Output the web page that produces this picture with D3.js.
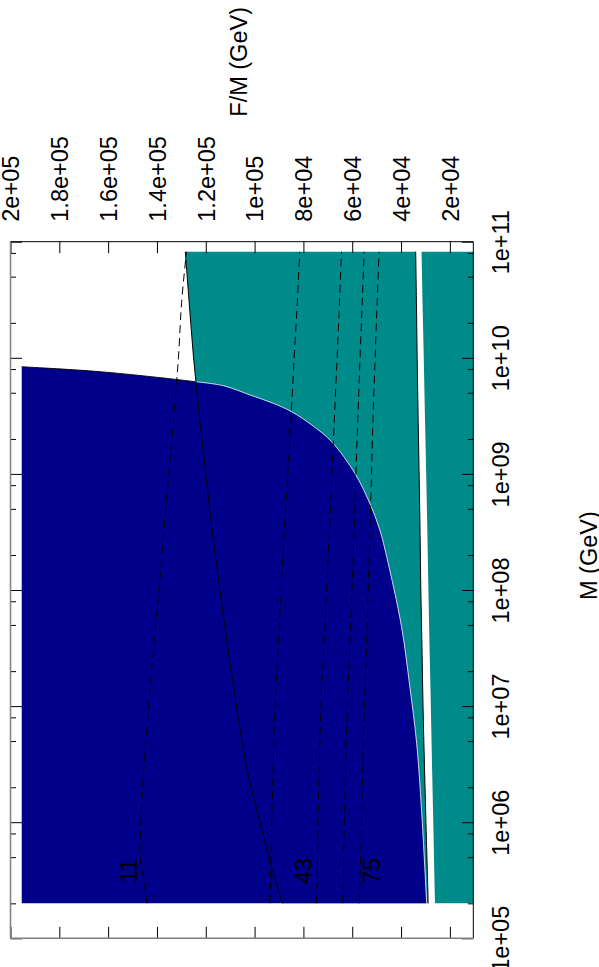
<!DOCTYPE html>
<html>
<head>
<meta charset="utf-8">
<script src="https://cdn.jsdelivr.net/npm/d3@7"></script>
<style>
  html, body { margin: 0; padding: 0; background: #fff; }
  svg text { font-family: "Liberation Sans", Arial, sans-serif; fill: #000; }
</style>
</head>
<body>
<div id="wrapper"></div>
<script>
// M grid (GeV) shared by the contour curves
const massGrid = [2e5, 3e5, 5e5, 1e6, 3e6, 1e7, 3e7, 1e8, 3e8, 1e9, 3e9, 1e10, 3e10, 8.2e10];

// solid curve bounding the teal band on the left
const solidLeft = [88600, 91100, 94200, 97800, 103300, 107400, 110800, 114200, 117200, 120000, 122500, 125000, 126800, 128400];
// solid curve bounding the teal band on the right
const solidRight = [28900, 29100, 29400, 29800, 30400, 31000, 31400, 31900, 32200, 32600, 33000, 33400, 33700, 34000];
// left edge of the second teal band
const bandEdge = [26100, 26300, 26500, 26800, 27300, 27800, 28300, 28800, 29200, 29700, 30200, 30700, 31200, 31600];

// dashed contours
const contour11 = [144100, 145200, 146800, 146600, 145300, 143400, 141500, 139200, 137300, 135100, 133200, 131200, 129900, 127900];
const contour27 = [93700, 93500, 93300, 93000, 92400, 91600, 90400, 89100, 87900, 86400, 85100, 83800, 82500, 81500];
const contour43 = [74600, 74400, 74200, 74000, 73500, 72800, 71700, 70500, 69400, 68300, 67300, 66200, 65200, 64400];
const contour59 = [63900, 63700, 63500, 63200, 62700, 62000, 61100, 60100, 59300, 58500, 57700, 56800, 55900, 55100];
const contour75 = [57100, 56900, 56600, 56200, 55700, 55000, 54200, 53500, 52800, 52100, 51500, 50600, 49800, 49000];

// excluded (blue) region boundary
const blueMass = [8.37e9, 7.59e9, 6.22e9, 5.75e9, 4.79e9, 4.06e9, 3.43e9, 2.64e9, 1.89e9, 1.01e9, 5.58e8, 3.29e8, 1.94e8, 4.83e7, 1.47e7, 4.79e6, 1.27e6, 2e5];
const blueF = [195400, 163300, 124200, 112800, 101900, 92400, 84800, 76600, 68400, 58900, 52800, 48700, 45900, 39800, 36400, 33600, 31600, 29500];

// contour labels
const labelText = ["11", "43", "75"];
const labelMass = [3.8e5, 3.8e5, 3.8e5];
const labelF = [151700, 79800, 51900];

// ticks
const fTicks = [2e4, 4e4, 6e4, 8e4, 1e5, 1.2e5, 1.4e5, 1.6e5, 1.8e5, 2e5];
const fTickLabels = ["2e+04", "4e+04", "6e+04", "8e+04", "1e+05", "1.2e+05", "1.4e+05", "1.6e+05", "1.8e+05", "2e+05"];
const mTicks = [1e5, 1e6, 1e7, 1e8, 1e9, 1e10, 1e11];
const mTickLabels = ["1e+05", "1e+06", "1e+07", "1e+08", "1e+09", "1e+10", "1e+11"];
const mMinor = [2e5, 5e5, 8e5, 2e6, 5e6, 8e6, 2e7, 5e7, 8e7, 2e8, 5e8, 8e8, 2e9, 5e9, 8e9, 2e10, 5e10, 8e10];

const width = 599, height = 967;
const frame = { left: 10.5, right: 473.3, top: 241.7, bottom: 938.3 };
const fontSize = 23.5;

const svg = d3.select("#wrapper").append("svg")
    .attr("width", width)
    .attr("height", height);

// plot is drawn turned a quarter: F/M runs left (high) to right (low), M runs bottom to top
const x = d3.scaleLinear().domain([2e5, 1.04e4]).range([frame.left, frame.right]);
const y = d3.scaleLog().domain([1e5, 1e11]).range([frame.bottom, frame.top]);

svg.append("clipPath").attr("id", "plotclip")
    .append("rect")
    .attr("x", frame.left).attr("y", frame.top)
    .attr("width", frame.right - frame.left)
    .attr("height", frame.bottom - frame.top);

const plot = svg.append("g").attr("clip-path", "url(#plotclip)");

const line = d3.line().x(d => x(d[1])).y(d => y(d[0]));
const smooth = d3.line().x(d => x(d[1])).y(d => y(d[0])).curve(d3.curveCatmullRom.alpha(0.5));
const pairs = vals => massGrid.map((m, i) => [m, vals[i]]);

// teal band between the two solid curves
const bandA = pairs(solidLeft).concat(pairs(solidRight).reverse());
plot.append("path")
    .attr("d", line(bandA) + "Z")
    .attr("fill", "#008b8b");

// second teal band, out to the low F/M edge
const bandB = pairs(bandEdge).concat(massGrid.map(m => [m, 5000]).reverse());
plot.append("path")
    .attr("d", line(bandB) + "Z")
    .attr("fill", "#008b8b");

// blue excluded region
const bluePts = blueMass.map((m, i) => [m, blueF[i]]);
const lastM = blueMass[blueMass.length - 1];
plot.append("path")
    .attr("d", smooth(bluePts) + `L${x(blueF[0])},${y(lastM)}Z`)
    .attr("fill", "#00008b");

plot.append("path")
    .attr("d", smooth(bluePts.slice(2)))
    .attr("fill", "none")
    .attr("stroke", "#e8e8f0")
    .attr("stroke-width", 0.9);

plot.append("path")
    .attr("d", smooth(bluePts.slice(0, 4)))
    .attr("fill", "none")
    .attr("stroke", "#000")
    .attr("stroke-width", 0.9)
    .attr("stroke-dasharray", `${x(blueF[2]) - x(blueF[0])},1000`);

// solid lines
[solidLeft, solidRight].forEach(vals => {
    plot.append("path")
        .attr("d", smooth(pairs(vals)))
        .attr("fill", "none")
        .attr("stroke", "#000")
        .attr("stroke-width", 1);
});

// dashed contours
[contour11, contour27, contour43, contour59, contour75].forEach(vals => {
    plot.append("path")
        .attr("d", smooth(pairs(vals)))
        .attr("fill", "none")
        .attr("stroke", "#000")
        .attr("stroke-width", 1)
        .attr("stroke-dasharray", "8,5");
});

// contour labels
labelText.forEach((t, i) => {
    svg.append("text")
        .attr("transform", `translate(${x(labelF[i]) + 8.4}, ${y(labelMass[i])}) rotate(-90)`)
        .attr("text-anchor", "middle")
        .style("font-size", fontSize + "px")
        .text(t);
});

// axes
const topAxis = svg.append("g")
    .attr("transform", `translate(0, ${frame.top})`)
    .call(d3.axisTop(x).tickValues(fTicks).tickSize(-11.5).tickFormat((d, i) => fTickLabels[i]));
topAxis.selectAll("text")
    .attr("x", null).attr("y", null).attr("dy", null)
    .attr("text-anchor", "start")
    .attr("transform", `translate(8.4, -20) rotate(-90)`)
    .style("font-size", fontSize + "px")
    .style("font-family", "'Liberation Sans', Arial, sans-serif");

svg.append("g")
    .attr("transform", `translate(0, ${frame.bottom})`)
    .call(d3.axisBottom(x).tickValues(fTicks).tickSize(-11.5).tickFormat(""));

const rightAxis = svg.append("g")
    .attr("transform", `translate(${frame.right}, 0)`)
    .call(d3.axisRight(y).tickValues(mTicks).tickSize(-11.5).tickFormat((d, i) => mTickLabels[i]));
rightAxis.selectAll("text")
    .attr("x", null).attr("y", null).attr("dy", null)
    .attr("text-anchor", "middle")
    .attr("transform", `translate(35.2, 0) rotate(-90)`)
    .style("font-size", fontSize + "px")
    .style("font-family", "'Liberation Sans', Arial, sans-serif");

svg.append("g")
    .attr("transform", `translate(${frame.right}, 0)`)
    .call(d3.axisRight(y).tickValues(mMinor).tickSize(-5.5).tickFormat(""));

svg.append("g")
    .attr("transform", `translate(${frame.left}, 0)`)
    .call(d3.axisLeft(y).tickValues(mTicks).tickSize(-11.5).tickFormat(""));
svg.append("g")
    .attr("transform", `translate(${frame.left}, 0)`)
    .call(d3.axisLeft(y).tickValues(mMinor).tickSize(-5.5).tickFormat(""));

svg.selectAll(".domain").remove();
svg.selectAll(".tick line").attr("stroke", "#000");

// frame
svg.append("line").attr("x1", frame.left).attr("x2", frame.right).attr("y1", frame.top).attr("y2", frame.top)
    .attr("stroke", "#000").attr("stroke-width", 1);
svg.append("line").attr("x1", frame.right).attr("x2", frame.right).attr("y1", frame.top).attr("y2", frame.bottom)
    .attr("stroke", "#000").attr("stroke-width", 1);
svg.append("line").attr("x1", frame.left).attr("x2", frame.left).attr("y1", frame.top).attr("y2", frame.bottom)
    .attr("stroke", "#808080").attr("stroke-width", 1.5);
svg.append("line").attr("x1", frame.left).attr("x2", frame.right).attr("y1", frame.bottom).attr("y2", frame.bottom)
    .attr("stroke", "#808080").attr("stroke-width", 1.5);

// axis titles
svg.append("text")
    .attr("transform", "translate(247, 116.7) rotate(-90)")
    .attr("text-anchor", "start")
    .style("font-size", fontSize + "px")
    .text("F/M (GeV)");

svg.append("text")
    .attr("transform", "translate(597, 600) rotate(-90)")
    .attr("text-anchor", "start")
    .style("font-size", fontSize + "px")
    .text("M (GeV)");
</script>
</body>
</html>
